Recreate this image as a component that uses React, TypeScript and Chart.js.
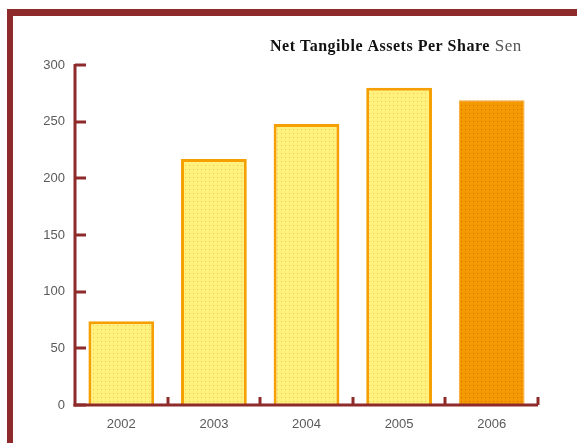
import React, { useEffect, useRef } from "react";
import { Chart, registerables } from "chart.js";

Chart.register(...registerables);

const categories = ["2002", "2003", "2004", "2005", "2006"];
const values = [74, 217, 248, 280, 269];
const yTicks = [0, 50, 100, 150, 200, 250, 300];
const titleBold = "Net Tangible Assets Per Share";
const titleUnit = "Sen";

function makePattern(bg: string, dot: string): CanvasPattern | string {
  const c = document.createElement("canvas");
  c.width = 4;
  c.height = 4;
  const g = c.getContext("2d");
  if (!g) return bg;
  g.fillStyle = bg;
  g.fillRect(0, 0, 4, 4);
  g.fillStyle = dot;
  g.fillRect(1, 1, 1, 1);
  const p = g.createPattern(c, "repeat");
  return p || bg;
}

const AXIS = "#8e2a2a";

export default function App() {
  const ref = useRef<HTMLCanvasElement | null>(null);

  useEffect(() => {
    if (!ref.current) return;
    const yellow = makePattern("#fff27c", "#f6c45a");
    const orange = makePattern("#f39a00", "#e06a10");

    const axesPlugin = {
      id: "customAxes",
      afterDraw(chart: any) {
        const ctx = chart.ctx;
        const ca = chart.chartArea;
        const ys = chart.scales.y;
        const xs = chart.scales.x;
        ctx.save();
        ctx.strokeStyle = AXIS;
        ctx.lineWidth = 3;
        ctx.lineCap = "butt";
        // y axis
        ctx.beginPath();
        ctx.moveTo(ca.left, ca.top - 1);
        ctx.lineTo(ca.left, ca.bottom + 1.5);
        ctx.stroke();
        // x axis
        ctx.beginPath();
        ctx.moveTo(ca.left - 1.5, ca.bottom);
        ctx.lineTo(ca.right, ca.bottom);
        ctx.stroke();
        // y ticks pointing inward
        for (const v of yTicks) {
          const y = Math.round(ys.getPixelForValue(v));
          ctx.beginPath();
          ctx.moveTo(ca.left, y);
          ctx.lineTo(ca.left + 11, y);
          ctx.stroke();
        }
        // x ticks at category boundaries pointing up
        for (let i = 1; i <= categories.length; i++) {
          const x = Math.round(xs.getPixelForValue(i - 0.5));
          ctx.beginPath();
          ctx.moveTo(x, ca.bottom);
          ctx.lineTo(x, ca.bottom - 8);
          ctx.stroke();
        }
        // title
        ctx.textBaseline = "alphabetic";
        try {
          (ctx as any).letterSpacing = "0.5px";
        } catch (e) {}
        ctx.fillStyle = "#111";
        ctx.font = "bold 16px 'Liberation Serif', 'DejaVu Serif', serif";
        const x0 = 270;
        const yT = 51;
        ctx.fillText(titleBold, x0, yT);
        const w = ctx.measureText(titleBold).width;
        ctx.fillStyle = "#555";
        ctx.font = "17px 'Liberation Serif', 'DejaVu Serif', serif";
        ctx.fillText(titleUnit, x0 + w + 5, yT);
        ctx.restore();
      },
    };

    const chart = new Chart(ref.current, {
      type: "bar",
      data: {
        labels: categories,
        datasets: [
          {
            data: values,
            backgroundColor: values.map((_, i) => (i === values.length - 1 ? orange : yellow)) as any,
            borderColor: values.map((_, i) => (i === values.length - 1 ? "#f7a830" : "#f5a000")),
            borderWidth: values.map((_, i) => (i === values.length - 1 ? 1 : 3)),
            borderSkipped: "bottom",
            barPercentage: 0.71,
            categoryPercentage: 1,
          },
        ],
      },
      options: {
        responsive: false,
        animation: false,
        devicePixelRatio: 1,
        layout: { padding: { left: 0, right: 39, top: 65, bottom: 0 } },
        plugins: { legend: { display: false }, title: { display: false }, tooltip: { enabled: false } },
        scales: {
          x: {
            grid: { display: false },
            border: { display: false },
            ticks: {
              color: "#5a5a5a",
              font: { family: "'Liberation Sans', Arial, sans-serif", size: 13 },
              padding: 4,
            },
            afterFit: (s: any) => {
              s.height = 38;
            },
          },
          y: {
            min: 0,
            max: 300,
            grid: { display: false },
            border: { display: false },
            ticks: {
              stepSize: 50,
              color: "#5a5a5a",
              font: { family: "'Liberation Sans', Arial, sans-serif", size: 13 },
              padding: 2,
            },
            afterFit: (s: any) => {
              s.width = 75;
            },
          },
        },
      },
      plugins: [axesPlugin],
    });
    return () => chart.destroy();
  }, []);

  return (
    <div style={{ position: "absolute", left: 0, top: 0, width: 577, height: 443, background: "#fff", overflow: "hidden" }}>
      <div
        style={{
          position: "absolute",
          left: 7,
          top: 9,
          width: 600,
          height: 500,
          borderTop: "7px solid #8e2a2a",
          borderLeft: "6px solid #8e2a2a",
          boxSizing: "border-box",
        }}
      />
      <canvas ref={ref} width={577} height={443} style={{ position: "absolute", left: 0, top: 0 }} />
    </div>
  );
}
